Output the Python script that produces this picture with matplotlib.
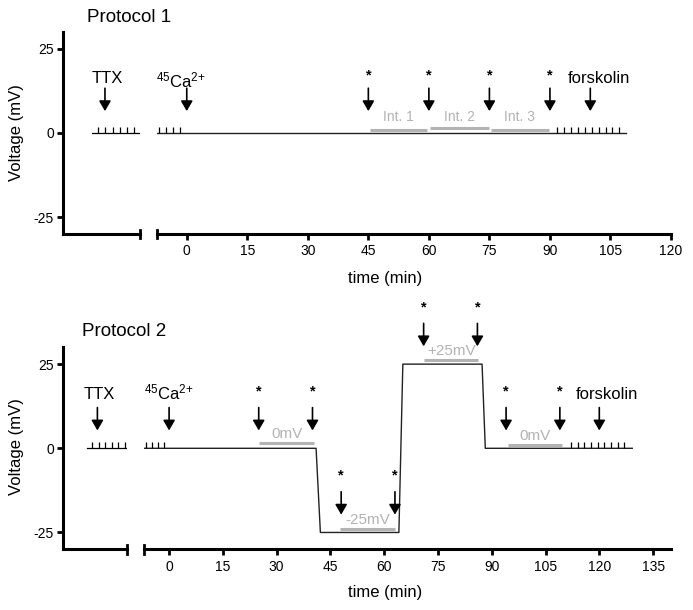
import matplotlib
matplotlib.use("Agg")
import matplotlib.pyplot as plt
from matplotlib.lines import Line2D

plt.rcParams['font.family'] = ['Liberation Sans', 'DejaVu Sans']
plt.rcParams['mathtext.fontset'] = 'custom'
plt.rcParams['mathtext.rm'] = 'Liberation Sans'
plt.rcParams['mathtext.it'] = 'Liberation Sans:italic'
plt.rcParams['mathtext.default'] = 'regular'
plt.rcParams['axes.unicode_minus'] = False

# ---------------- data ----------------
y_ticks = [25, 0, -25]
y_ticklabels = ['25', '0', '-25']

# Protocol 1
p1_xticks = [0, 15, 30, 45, 60, 75, 90, 105, 120]
p1_ttx_line = [7.2, 19.1]
p1_ttx_ticks = [8.7, 10.5, 12.3, 14.1, 15.9, 17.7]
p1_ttx_arrow = 10.4
p1_trace_t = [-7.3, 108.9]
p1_trace_v = [0, 0]
p1_ca_ticks = [-7.0, -5.2, -3.4, -1.6]
p1_ca_arrow = 0
p1_fsk_ticks = [91.8, 93.5, 95.2, 96.9, 98.7, 100.4, 102.1, 103.8, 105.5, 107.2]
p1_fsk_arrow = 100
p1_sample_times = [45, 60, 75, 90]
p1_int_start = [45.3, 60.3, 75.3]
p1_int_end = [59.5, 74.9, 89.8]
p1_int_level = [0.9, 1.5, 0.9]
p1_int_labels = ['Int. 1', 'Int. 2', 'Int. 3']

# Protocol 2
p2_xticks = [0, 15, 30, 45, 60, 75, 90, 105, 120, 135]
p2_ttx_line = [6.6, 17.8]
p2_ttx_ticks = [8.2, 10.0, 11.8, 13.6, 15.4, 17.2]
p2_ttx_arrow = 9.6
p2_trace_t = [-7.0, 41.0, 42.2, 64.1, 65.2, 87.3, 88.2, 129.2]
p2_trace_v = [0, 0, -25, -25, 25, 25, 0, 0]
p2_ca_ticks = [-6.5, -4.8, -3.1, -1.4]
p2_ca_arrow = 0
p2_fsk_ticks = [112.1, 114.0, 115.8, 117.7, 119.5, 121.4, 123.3, 125.1, 127.0]
p2_fsk_arrow = 120
p2_sample_times = [25, 40, 48, 63, 71, 86, 94, 109]
p2_sample_level = [0, 0, -25, -25, 25, 25, 0, 0]
p2_int_start = [25.2, 47.7, 71.2, 94.5]
p2_int_end = [40.5, 63.0, 86.2, 109.6]
p2_int_level = [1.5, -24.0, 26.2, 1.0]
p2_int_labels = ['0mV', '-25mV', '+25mV', '0mV']

GREY = '#b3b3b3'
W, H = 693, 610

fig = plt.figure(figsize=(W / 100, H / 100), dpi=100)


def px_rect(x0, x1, ytop, ybot):
    return [x0 / W, 1 - ybot / H, (x1 - x0) / W, (ybot - ytop) / H]


def style_axes(ax, left_spine):
    for s in ['top', 'right']:
        ax.spines[s].set_visible(False)
    ax.spines['bottom'].set_linewidth(2.2)
    if left_spine:
        ax.spines['left'].set_linewidth(2.2)
        ax.set_yticks(y_ticks)
        ax.set_yticklabels(y_ticklabels)
        ax.tick_params(axis='y', length=4.5, width=2.0, labelsize=10, pad=2)
    else:
        ax.spines['left'].set_visible(False)
        ax.set_yticks([])
    ax.set_ylim(-30, 30)
    ax.patch.set_alpha(0)


def arrow(ax, x, tip, length=6.8, lw=1.2):
    ax.annotate('', xy=(x, tip), xytext=(x, tip + length),
                arrowprops=dict(arrowstyle='-|>,head_length=0.55,head_width=0.32',
                                mutation_scale=11, lw=lw, color='black',
                                shrinkA=0, shrinkB=0),
                annotation_clip=False)


def star(ax, x, y):
    ax.text(x, y, '*', ha='center', va='center', fontsize=10.5,
            fontweight='bold', clip_on=False)


def ticks_marks(ax, xs, height):
    ax.vlines(xs, 0, height, color='black', lw=0.9)


def break_mark(ax, xpos):
    ax.add_line(Line2D([xpos, xpos], [-0.022, 0.022], transform=ax.transAxes,
                       color='black', lw=2.0, clip_on=False))


def build(top_px, bot_px, left_end_px, right_start_px, xmin, xmax, lxmax,
          xticks, ttx_line, ttx_ticks, ttx_arrow, ttx_text_x,
          trace_t, trace_v, ca_ticks, ca_arrow, ca_text_x, ca_text_y,
          fsk_ticks, fsk_arrow, fsk_text_x,
          arrow_tip0, text_y):
    axL = fig.add_axes(px_rect(63, left_end_px, top_px, bot_px))
    axR = fig.add_axes(px_rect(right_start_px, 671, top_px, bot_px))
    style_axes(axL, True)
    style_axes(axR, False)
    axL.set_xlim(0, lxmax)
    axL.set_xticks([])
    axR.set_xlim(xmin, xmax)
    axR.set_xticks(xticks)
    axR.set_xticklabels([str(v) for v in xticks])
    axR.tick_params(axis='x', length=4.5, width=2.0, labelsize=10, pad=3)
    break_mark(axL, 1.0)
    break_mark(axR, 0.0)

    # TTX segment
    axL.plot(ttx_line, [0, 0], color='black', lw=0.9)
    ticks_marks(axL, ttx_ticks, 1.8)
    arrow(axL, ttx_arrow, arrow_tip0)
    axL.text(ttx_text_x, text_y, 'TTX', ha='center', va='center', fontsize=12)

    # main trace
    axR.plot(trace_t, trace_v, color='#222222', lw=1.0)
    ticks_marks(axR, ca_ticks, 1.8)
    ticks_marks(axR, fsk_ticks, 1.8)
    arrow(axR, ca_arrow, arrow_tip0)
    axR.text(ca_text_x, ca_text_y, r'$^{45}$Ca$^{2{+}}$', ha='center',
             va='baseline', fontsize=12)
    arrow(axR, fsk_arrow, arrow_tip0)
    axR.text(fsk_text_x, text_y, 'forskolin', ha='center', va='center', fontsize=12)
    return axL, axR


# ---------------- Protocol 1 ----------------
a1L, a1R = build(32, 234, 140, 157.3, -7.3, 120, 19.08, p1_xticks,
                 p1_ttx_line, p1_ttx_ticks, p1_ttx_arrow, 11.0,
                 p1_trace_t, p1_trace_v, p1_ca_ticks, p1_ca_arrow, -1.5, 13.4,
                 p1_fsk_ticks, p1_fsk_arrow, 102.2, 6.5, 16.2)
for t in p1_sample_times:
    arrow(a1R, t, 6.5)
    star(a1R, t, 17.0)
for s, e, lv, lab in zip(p1_int_start, p1_int_end, p1_int_level, p1_int_labels):
    a1R.plot([s, e], [lv, lv], color=GREY, lw=2.2, solid_capstyle='butt')
    a1R.text((s + e) / 2, 4.7, lab, ha='center', va='center', fontsize=10, color=GREY)

# ---------------- Protocol 2 ----------------
a2L, a2R = build(347.3, 549.3, 126.7, 144, -7.0, 140, 17.78, p2_xticks,
                 p2_ttx_line, p2_ttx_ticks, p2_ttx_arrow, 10.1,
                 p2_trace_t, p2_trace_v, p2_ca_ticks, p2_ca_arrow, 0.0, 14.4,
                 p2_fsk_ticks, p2_fsk_arrow, 122.0, 5.3, 16.0)
for t, lv in zip(p2_sample_times, p2_sample_level):
    tip = lv + 5.3
    arrow(a2R, t, tip)
    star(a2R, t, tip + 11.6)
for s, e, lv, lab in zip(p2_int_start, p2_int_end, p2_int_level, p2_int_labels):
    a2R.plot([s, e], [lv, lv], color=GREY, lw=2.2, solid_capstyle='butt')
    a2R.text((s + e) / 2, lv + 2.6, lab, ha='center', va='center', fontsize=11, color=GREY)

# ---------------- labels ----------------
fig.text(87 / W, 1 - 17 / H, 'Protocol 1', ha='left', va='center', fontsize=13.5)
fig.text(81.7 / W, 1 - 331.7 / H, 'Protocol 2', ha='left', va='center', fontsize=13.5)
fig.text(16.7 / W, 1 - 133 / H, 'Voltage (mV)', rotation=90, ha='center', va='center', fontsize=12)
fig.text(16.7 / W, 1 - 447 / H, 'Voltage (mV)', rotation=90, ha='center', va='center', fontsize=12)
fig.text(385 / W, 1 - 278 / H, 'time (min)', ha='center', va='center', fontsize=12)
fig.text(385 / W, 1 - 592.7 / H, 'time (min)', ha='center', va='center', fontsize=12)

fig.savefig('out.png', dpi=100)
